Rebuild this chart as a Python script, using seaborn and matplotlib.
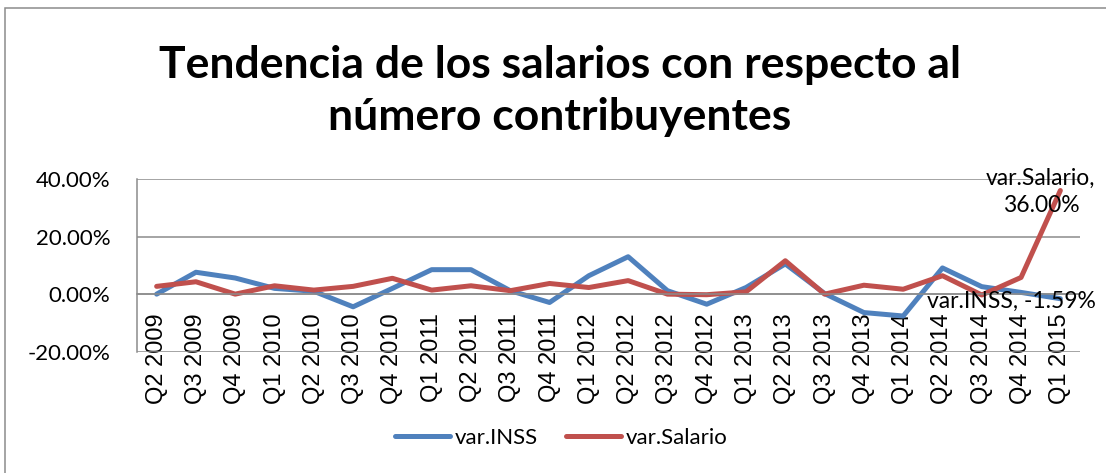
import numpy as np
import pandas as pd
import matplotlib
matplotlib.use("Agg")
import matplotlib.pyplot as plt
import matplotlib.patches as mpatches
from matplotlib.lines import Line2D
from matplotlib.ticker import PercentFormatter
import seaborn as sns

# ---- data (in %) ----
trimestres = ["Q2 2009", "Q3 2009", "Q4 2009",
              "Q1 2010", "Q2 2010", "Q3 2010", "Q4 2010",
              "Q1 2011", "Q2 2011", "Q3 2011", "Q4 2011",
              "Q1 2012", "Q2 2012", "Q3 2012", "Q4 2012",
              "Q1 2013", "Q2 2013", "Q3 2013", "Q4 2013",
              "Q1 2014", "Q2 2014", "Q3 2014", "Q4 2014",
              "Q1 2015"]
var_inss = [0.0, 7.6, 5.6, 2.0, 1.0, -4.4, 2.0, 8.5, 8.5, 1.2, -2.9, 6.4,
            13.0, 1.2, -3.5, 2.3, 10.5, 0.2, -6.4, -7.6, 9.1, 2.6, 0.6, -1.59]
var_salario = [2.7, 4.3, 0.0, 2.9, 1.4, 2.7, 5.5, 1.4, 2.9, 1.2, 3.7, 2.3,
               4.7, 0.0, -0.2, 0.8, 11.6, 0.0, 3.1, 1.7, 6.4, -0.3, 5.8, 36.0]
series = ["var.INSS", "var.Salario"]
colores = ["#4F81BD", "#C0504D"]
yticks = [-20, 0, 20, 40]

df = pd.DataFrame({"trimestre": trimestres,
                   "var.INSS": var_inss,
                   "var.Salario": var_salario})
df_long = df.melt(id_vars="trimestre", var_name="serie", value_name="valor")

# ---- figure ----
sns.set_style("white")
plt.rcParams["font.family"] = ["Lato", "DejaVu Sans"]
plt.rcParams["axes.unicode_minus"] = False
plt.rcParams["text.color"] = "black"
plt.rcParams["xtick.color"] = "black"
plt.rcParams["ytick.color"] = "black"

fig = plt.figure(figsize=(11.06, 4.73), dpi=100)
ax = fig.add_axes([137 / 1106, 1 - 351.7 / 473, (1080 - 137) / 1106, (351.7 - 179) / 473])

sns.lineplot(data=df_long, x="trimestre", y="valor", hue="serie",
             palette=dict(zip(series, colores)), linewidth=3.6,
             sort=False, legend=False, ax=ax)

ax.set_xlim(-0.5, len(trimestres) - 0.5)
ax.set_ylim(yticks[0], yticks[-1])
ax.set_yticks(yticks)
ax.yaxis.set_major_formatter(PercentFormatter(decimals=2))
ax.set_xlabel("")
ax.set_ylabel("")

gris = "#8C8C8C"
ax.grid(axis="y", color=gris, linewidth=1.1)
ax.set_axisbelow(True)
for s in ["top", "right"]:
    ax.spines[s].set_visible(False)
ax.spines["left"].set_color(gris)
ax.spines["left"].set_linewidth(1.1)
ax.spines["bottom"].set_position(("data", 0))
ax.spines["bottom"].set_color(gris)
ax.spines["bottom"].set_linewidth(1.1)

ax.tick_params(axis="y", length=4, color=gris, labelcolor="black", pad=15, labelsize=16)
ax.tick_params(axis="x", length=0, pad=14, labelcolor="black")
for lab in ax.get_xticklabels():
    lab.set_rotation(90)
    lab.set_fontfamily("Liberation Sans")
    lab.set_fontsize(17)

# data labels on the last point
n = len(trimestres) - 1
ax.annotate("var.INSS, -1.59%", xy=(n, var_inss[-1]), xytext=(-35, -2),
            textcoords="offset points", ha="center", va="center", fontsize=16.5)
ax.annotate("var.Salario,\n36.00%", xy=(n, var_salario[-1]), xytext=(-14, -1),
            textcoords="offset points", ha="center", va="center", fontsize=16.5,
            multialignment="center", linespacing=1.35)

# title
fig.text(0.506, 1 - 91 / 473,
         "Tendencia de los salarios con respecto al\nnúmero contribuyentes",
         ha="center", va="center", fontsize=32, fontweight="bold",
         linespacing=1.36)

# legend
handles = [Line2D([0], [0], color=c, linewidth=3.6, solid_capstyle="round") for c in colores]
fig.legend(handles, series, loc="center", bbox_to_anchor=(561 / 1106, 1 - 438 / 473),
           ncol=2, frameon=False, fontsize=16, handlelength=2.5,
           handletextpad=0.2, columnspacing=1.25)

# chart area border
fig.patches.append(mpatches.Rectangle((5 / 1106, -0.1), 1.2, 1.1 - 8 / 473,
                                      transform=fig.transFigure, fill=False,
                                      edgecolor=gris, linewidth=1.1))

fig.savefig("out.png", dpi=100)
